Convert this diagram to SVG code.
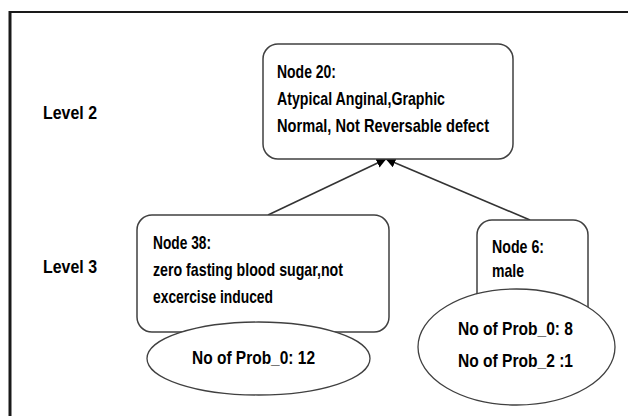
<svg xmlns="http://www.w3.org/2000/svg" width="628" height="416" viewBox="0 0 628 416">
  <defs>
    <style>
      .frame { stroke: #1a1a1a; fill: none; }
      .box { fill: #ffffff; stroke: #404040; stroke-width: 1.5; }
      .leaf { fill: #ffffff; stroke: #404040; stroke-width: 1.3; }
      .edge { stroke: #333333; stroke-width: 1.6; fill: none; marker-end: url(#arrow); }
      text { font-family: "Liberation Sans", Arial, sans-serif; font-weight: bold; font-size: 18.5px; fill: #000000; }
    </style>
    <marker id="arrow" viewBox="0 0 10 10" refX="9.5" refY="5" markerWidth="10" markerHeight="10" markerUnits="userSpaceOnUse" orient="auto">
      <path d="M0,0 L10,5 L0,10 z" fill="#000000"/>
    </marker>
  </defs>

  <rect width="628" height="416" fill="#ffffff"/>

  <!-- page frame -->
  <line class="frame" x1="10" y1="12" x2="628" y2="12" stroke-width="2"/>
  <line class="frame" x1="10" y1="11" x2="10" y2="416" stroke-width="3"/>

  <!-- level labels -->
  <g id="level-labels">
    <text x="43" y="119" textLength="54" lengthAdjust="spacingAndGlyphs">Level 2</text>
    <text x="43" y="273" textLength="54" lengthAdjust="spacingAndGlyphs">Level 3</text>
  </g>

  <!-- connectors -->
  <g id="connectors">
    <line class="edge" x1="268" y1="215" x2="386" y2="159"/>
    <line class="edge" x1="530" y1="220" x2="386" y2="159"/>
  </g>

  <g id="node20">
    <rect class="box" x="263" y="44" width="250" height="115" rx="15" ry="15"/>
    <text x="277" y="78" textLength="59" lengthAdjust="spacingAndGlyphs">Node 20:</text>
    <text x="277" y="105" textLength="168" lengthAdjust="spacingAndGlyphs">Atypical Anginal,Graphic</text>
    <text x="277" y="132" textLength="212" lengthAdjust="spacingAndGlyphs">Normal, Not Reversable defect</text>
  </g>

  <g id="node38">
    <rect class="box" x="137" y="215" width="252" height="117" rx="15" ry="15"/>
    <text x="153" y="249" textLength="58" lengthAdjust="spacingAndGlyphs">Node 38:</text>
    <text x="153" y="276" textLength="190" lengthAdjust="spacingAndGlyphs">zero fasting blood sugar,not</text>
    <text x="153" y="303" textLength="120" lengthAdjust="spacingAndGlyphs">excercise induced</text>
  </g>

  <g id="node38-count">
    <ellipse class="leaf" cx="258.5" cy="358.5" rx="111.5" ry="36.5"/>
    <text x="192" y="364" textLength="123" lengthAdjust="spacingAndGlyphs">No of Prob_0: 12</text>
  </g>

  <g id="node6">
    <rect class="box" x="477" y="220" width="111" height="110" rx="15" ry="15"/>
    <text x="492" y="253" textLength="52" lengthAdjust="spacingAndGlyphs">Node 6:</text>
    <text x="492" y="277" textLength="32" lengthAdjust="spacingAndGlyphs">male</text>
  </g>

  <g id="node6-count">
    <ellipse class="leaf" cx="516.5" cy="347" rx="98.5" ry="58"/>
    <text x="458" y="335" textLength="115" lengthAdjust="spacingAndGlyphs">No of Prob_0: 8</text>
    <text x="458" y="367" textLength="115" lengthAdjust="spacingAndGlyphs">No of Prob_2 :1</text>
  </g>
</svg>
